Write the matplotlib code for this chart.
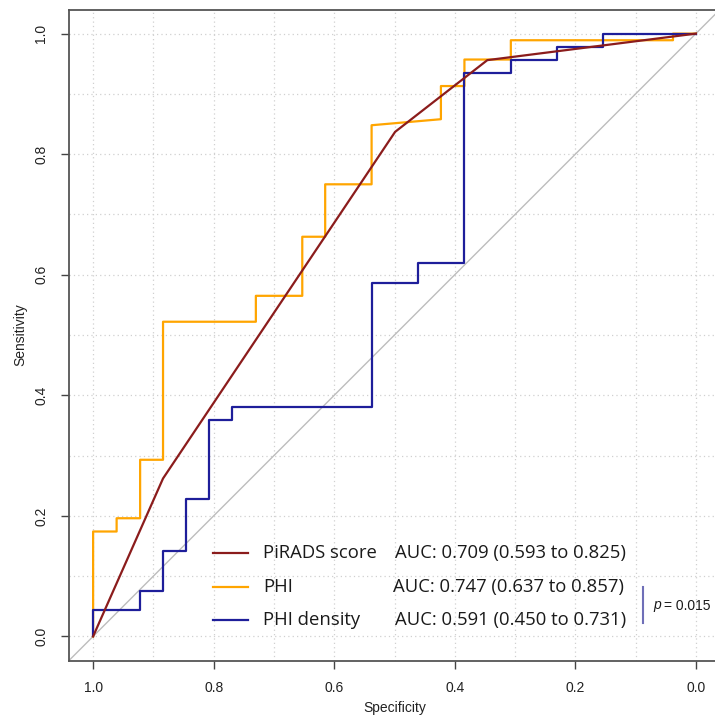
import matplotlib
matplotlib.use("Agg")
import matplotlib.pyplot as plt
from matplotlib.lines import Line2D

# ROC curves (specificity, sensitivity vertices)
pirads_spec = [1.0, 0.884, 0.499, 0.346, 0.0]
pirads_sens = [0.0, 0.262, 0.837, 0.956, 1.0]

phi_spec = [1.0, 1.0, 0.961, 0.961, 0.922, 0.922, 0.884, 0.884, 0.730, 0.730,
            0.653, 0.653, 0.615, 0.615, 0.538, 0.538, 0.423, 0.423, 0.384, 0.384,
            0.307, 0.307, 0.038, 0.038, 0.0]
phi_sens = [0.0, 0.174, 0.174, 0.196, 0.196, 0.293, 0.293, 0.522, 0.522, 0.565,
            0.565, 0.663, 0.663, 0.750, 0.750, 0.848, 0.858, 0.913, 0.913, 0.957,
            0.957, 0.989, 0.989, 1.0, 1.0]

dens_spec = [1.0, 1.0, 0.922, 0.922, 0.884, 0.884, 0.846, 0.846, 0.807, 0.807,
             0.769, 0.769, 0.538, 0.538, 0.461, 0.461, 0.384, 0.384, 0.307, 0.307,
             0.231, 0.231, 0.154, 0.154, 0.0]
dens_sens = [0.0, 0.043, 0.043, 0.076, 0.076, 0.141, 0.141, 0.228, 0.228, 0.359,
             0.359, 0.380, 0.380, 0.587, 0.587, 0.620, 0.620, 0.935, 0.935, 0.957,
             0.957, 0.978, 0.978, 1.0, 1.0]

series_names = ["PiRADS score", "PHI", "PHI density"]
auc_labels = ["AUC: 0.709 (0.593 to 0.825)",
              "AUC: 0.747 (0.637 to 0.857)",
              "AUC: 0.591 (0.450 to 0.731)"]
p_value = "0.015"
ticks = [1.0, 0.8, 0.6, 0.4, 0.2, 0.0]
tick_labels = ["1.0", "0.8", "0.6", "0.4", "0.2", "0.0"]

RED = "#8B1C1C"
ORANGE = "#FFA500"
BLUE = "#1E1E9A"
colors = [RED, ORANGE, BLUE]

W, H = 715, 720
fig = plt.figure(figsize=(W / 100, H / 100), dpi=100)
ax = fig.add_axes([69 / W, 1 - 660.5 / H, 651 / W, 651 / H])

ax.set_xlim(1.04, -0.04)
ax.set_ylim(-0.04, 1.04)

# grid
grid_vals = [i / 10 for i in range(11)]
for g in grid_vals:
    ax.axvline(g, color="#D0D0D0", lw=0.9, ls=(0, (1, 2.5)), zorder=0)
    ax.axhline(g, color="#D0D0D0", lw=0.9, ls=(0, (1, 2.5)), zorder=0)

ax.axline((1, 0), (0, 1), color="#BDBDBD", lw=1.0, zorder=1)

ax.plot(phi_spec, phi_sens, color=ORANGE, lw=1.6, zorder=2)
ax.plot(dens_spec, dens_sens, color=BLUE, lw=1.6, zorder=3)
ax.plot(pirads_spec, pirads_sens, color=RED, lw=1.6, zorder=4)

for s in ax.spines.values():
    s.set_color("#555555")
    s.set_linewidth(1.3)
ax.spines["right"].set_visible(False)

tick_font = dict(family="Liberation Sans", size=10, color="#222222")
ax.set_xticks(ticks)
ax.set_xticklabels(tick_labels, **tick_font)
ax.set_yticks(ticks)
ax.set_yticklabels(tick_labels, rotation=90, va="center", **tick_font)
ax.tick_params(axis="both", length=6, width=1.0, color="#444444")
ax.tick_params(axis="x", pad=9)
ax.tick_params(axis="y", pad=9)

ax.set_xlabel("Specificity", family="Liberation Sans", size=10, color="#222222", labelpad=4)
ax.set_ylabel("Sensitivity", family="Liberation Sans", size=10, color="#222222", labelpad=5)

# legend drawn by hand to keep the two text columns
row_y = [552.7, 586.7, 620.0]
auc_x = [395, 393, 395]
for name, auc, c, y, ax_x in zip(series_names, auc_labels, colors, row_y, auc_x):
    fig.add_artist(Line2D([212.7 / W, 248 / W], [1 - y / H, 1 - y / H], color=c, lw=1.6))
    fig.text(263 / W, 1 - y / H, name, family="Open Sans", size=13.3,
             va="center", ha="left", color="#1a1a1a")
    fig.text(ax_x / W, 1 - y / H, auc, family="Open Sans", size=13.3,
             va="center", ha="left", color="#1a1a1a")

# p-value bracket
fig.add_artist(Line2D([643 / W, 643 / W], [1 - 587 / H, 1 - 623 / H], color="#6F6FB8", lw=1.5))
fig.text(653 / W, 1 - 605.5 / H, "p", family="Liberation Sans", style="italic",
         size=10, va="center", ha="left", color="#1a1a1a")
fig.text(664 / W, 1 - 605.5 / H, "= " + p_value, family="Liberation Sans",
         size=10, va="center", ha="left", color="#1a1a1a")

fig.savefig("out.png", dpi=100)
